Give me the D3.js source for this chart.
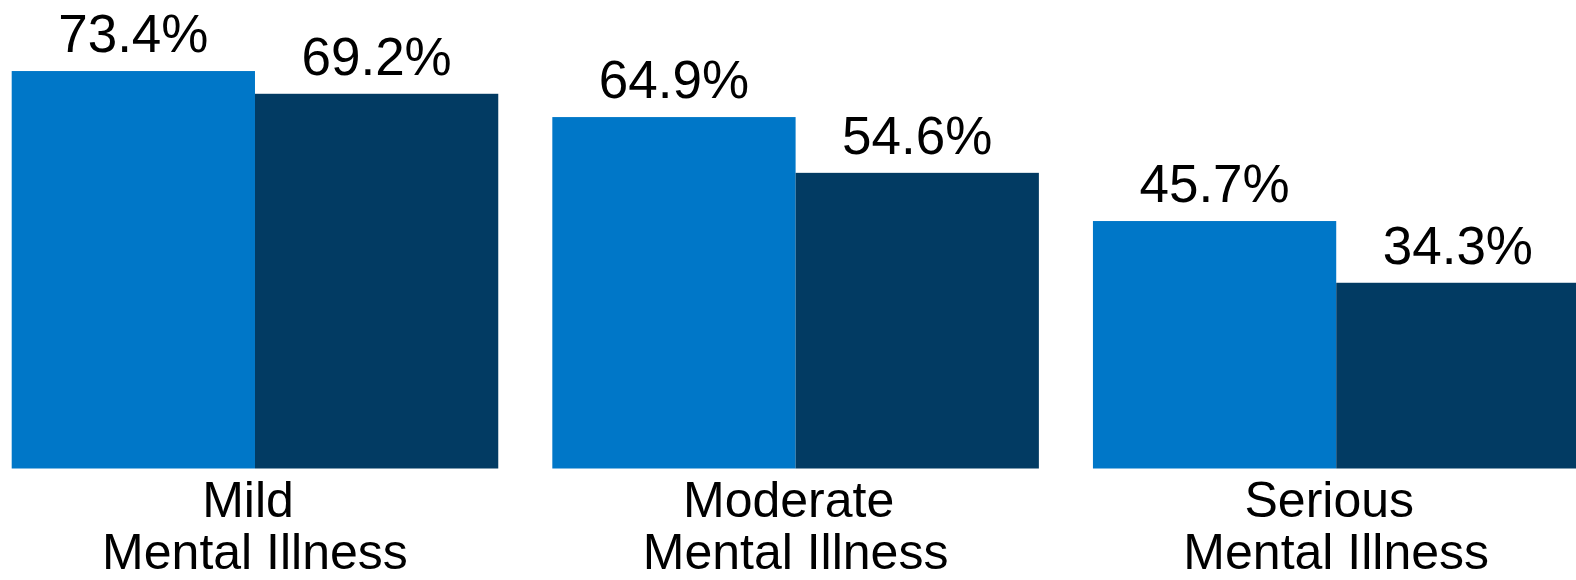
<!DOCTYPE html>
<html>
<head>
<meta charset="utf-8">
<script src="https://cdn.jsdelivr.net/npm/d3@7"></script>
<style>
  html, body { margin: 0; padding: 0; background: #fff; }
  text { font-family: "Liberation Sans", Arial, sans-serif; fill: #000; }
</style>
</head>
<body>
<div id="chart"></div>
<script>
const WIDTH = 1576;
const HEIGHT = 580;

// categories: first line keeps the trailing space seen in the original labels
const categoryLine1 = ["Mild ", "Moderate ", "Serious "];
const categoryLine2 = ["Mental Illness", "Mental Illness", "Mental Illness"];
const seriesNames = ["A", "B"];
const seriesA = [73.4, 64.9, 45.7];
const seriesB = [69.2, 54.6, 34.3];
const colors = ["#0077c8", "#023b63"];

const data = categoryLine1.map((c, i) => ({
  key: i,
  values: [
    { series: seriesNames[0], value: seriesA[i] },
    { series: seriesNames[1], value: seriesB[i] }
  ]
}));

const svg = d3.select("#chart").append("svg")
  .attr("width", WIDTH)
  .attr("height", HEIGHT);

const x0 = d3.scaleBand()
  .domain(data.map(d => d.key))
  .range([11.7, 1579.5])
  .paddingInner(0.1)
  .paddingOuter(0);

const x1 = d3.scaleBand()
  .domain(seriesNames)
  .range([0, x0.bandwidth()])
  .padding(0);

const y = d3.scaleLinear()
  .domain([0, 86.52])
  .range([468.5, 0]);

const color = d3.scaleOrdinal().domain(seriesNames).range(colors);

const groups = svg.append("g")
  .selectAll("g").data(data).enter().append("g")
  .attr("transform", d => `translate(${x0(d.key)},0)`);

groups.selectAll("rect").data(d => d.values).enter().append("rect")
  .attr("x", d => x1(d.series))
  .attr("y", d => y(d.value))
  .attr("width", x1.bandwidth())
  .attr("height", d => y(0) - y(d.value))
  .attr("fill", d => color(d.series));

// value labels above each bar
groups.selectAll("text.value").data(d => d.values).enter().append("text")
  .attr("class", "value")
  .attr("x", d => x1(d.series) + x1.bandwidth() / 2)
  .attr("y", d => y(d.value) - 19)
  .attr("text-anchor", "middle")
  .style("font-size", "53px")
  .text(d => d.value.toFixed(1) + "%");

// category labels under each group
const labels = groups.append("text")
  .attr("class", "category")
  .attr("text-anchor", "middle")
  .style("font-size", "50px")
  .style("white-space", "pre");

labels.append("tspan")
  .attr("x", x0.bandwidth() / 2)
  .attr("y", 517)
  .text(d => categoryLine1[d.key]);

labels.append("tspan")
  .attr("x", x0.bandwidth() / 2)
  .attr("y", 569)
  .text(d => categoryLine2[d.key]);
</script>
</body>
</html>
